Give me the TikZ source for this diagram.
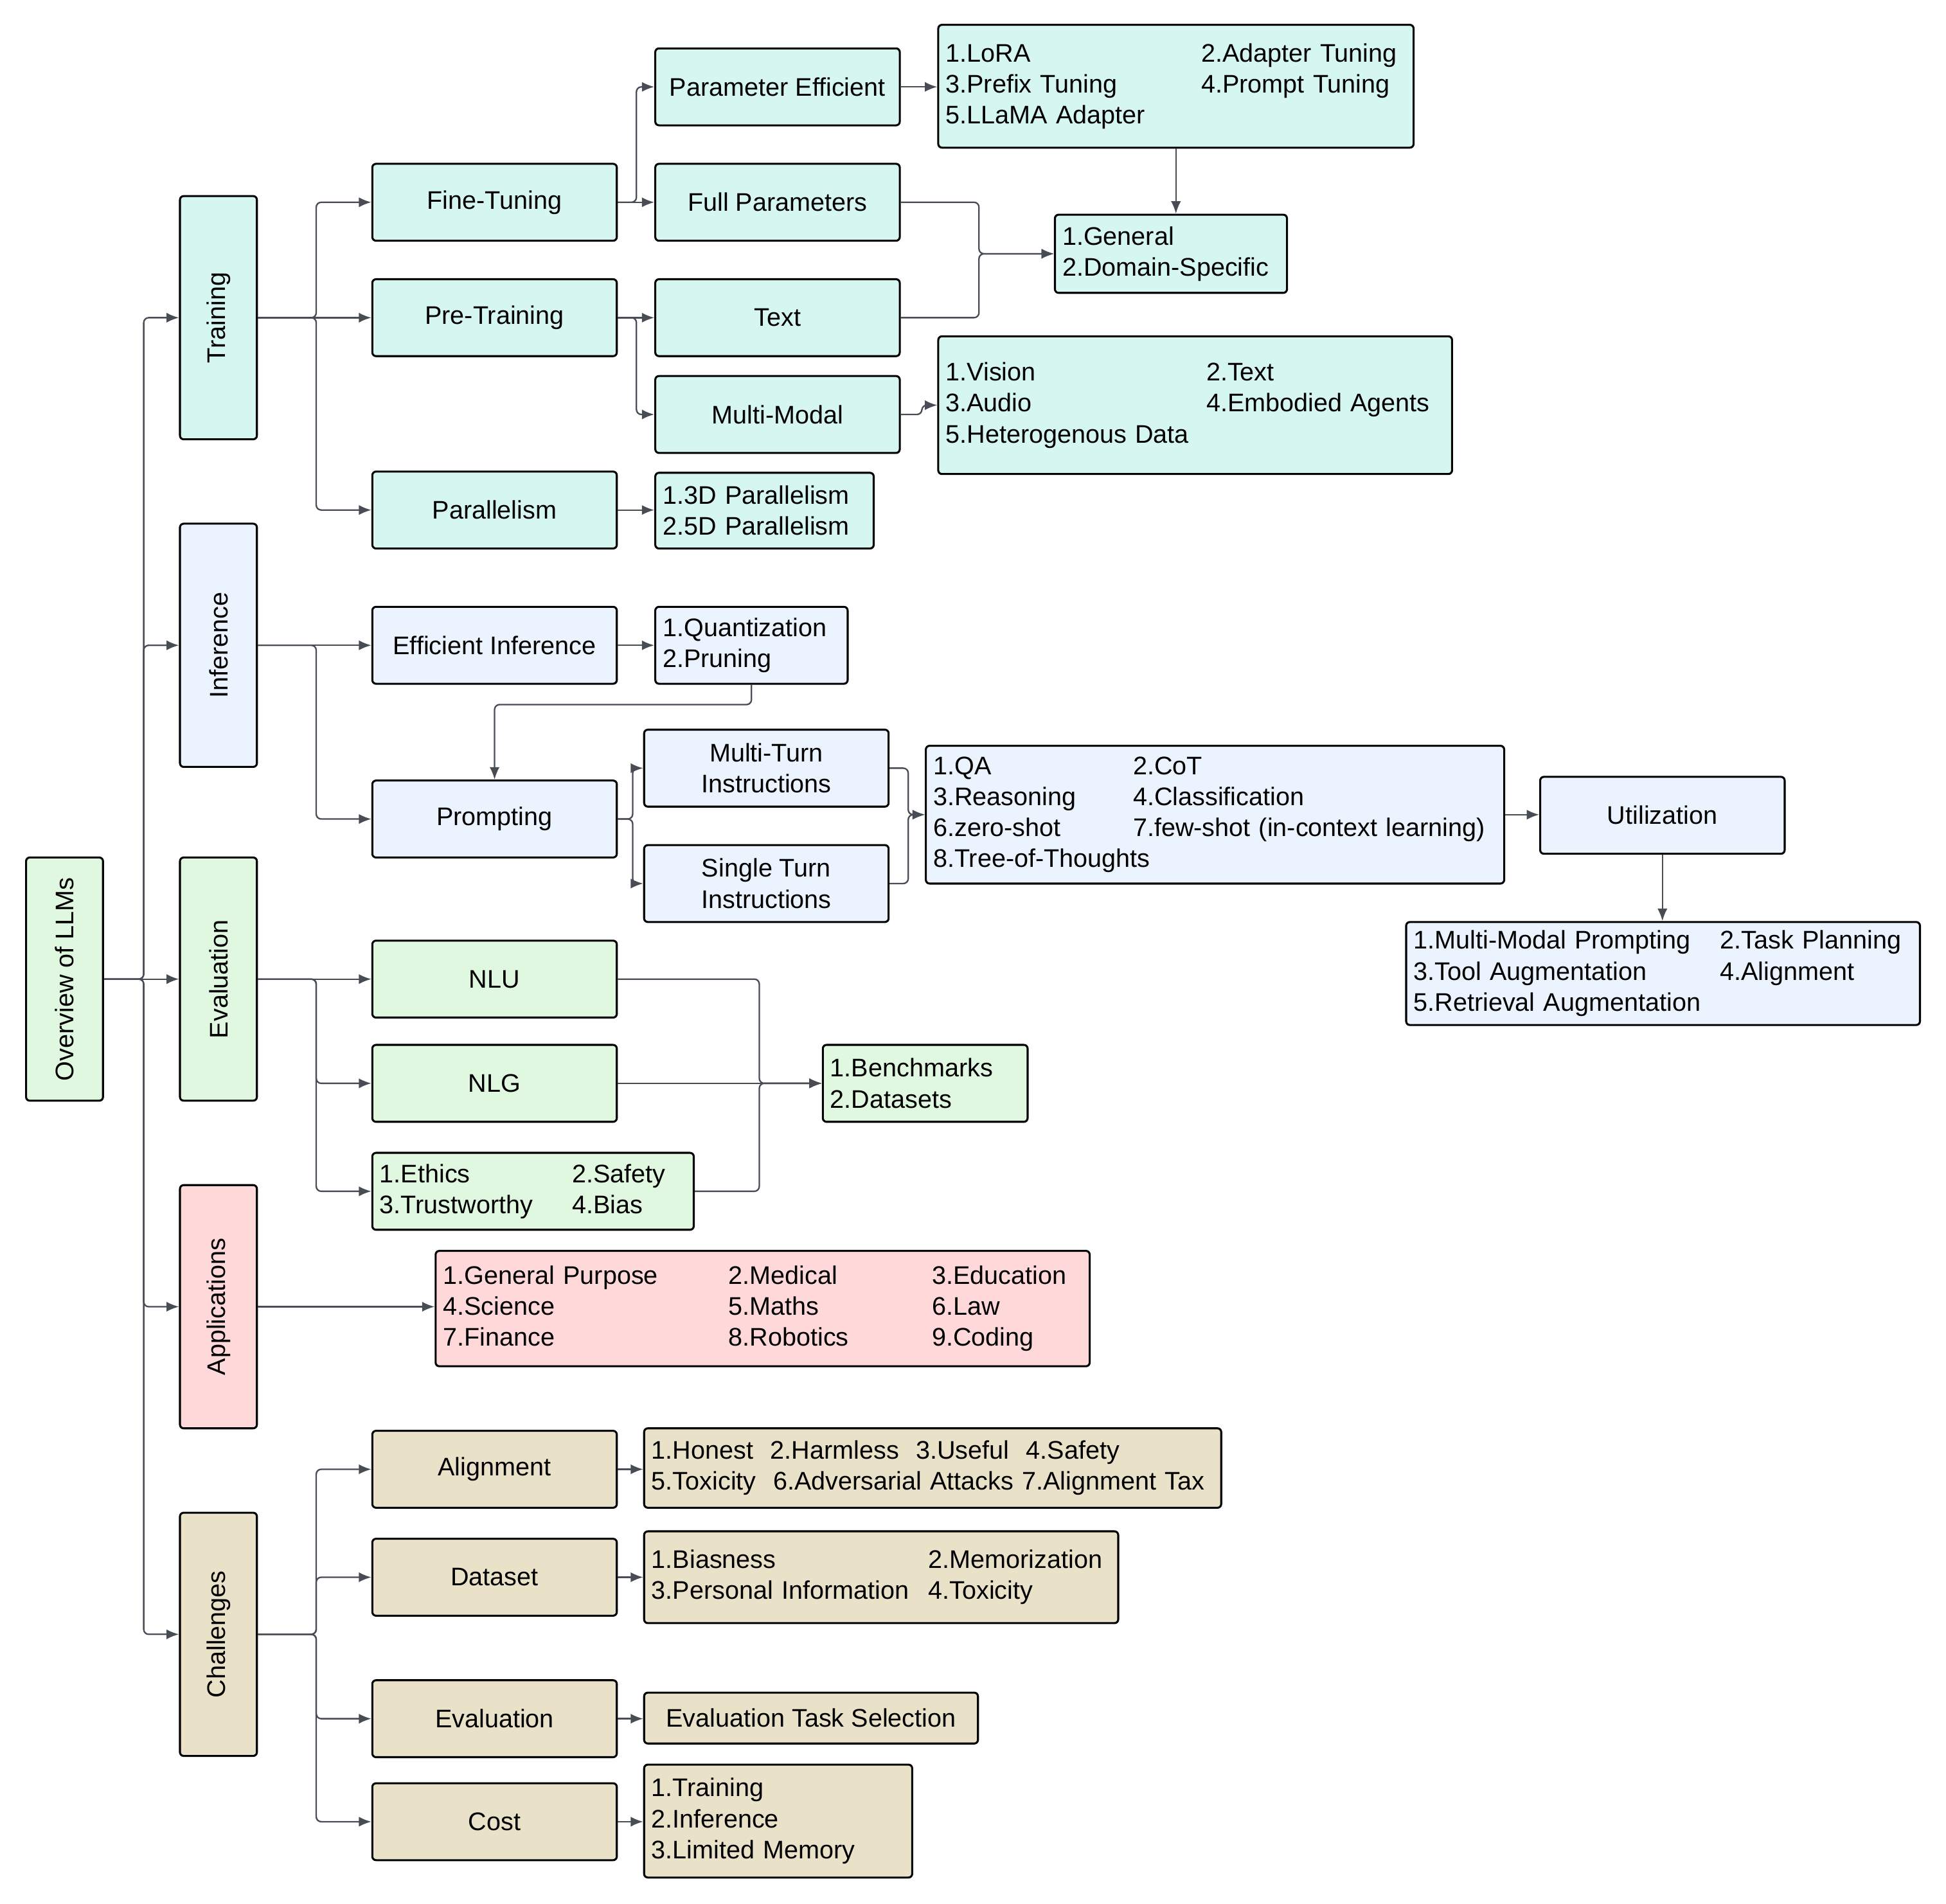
\documentclass[tikz,border=0pt]{standalone}
\usepackage{fontspec}
\setmainfont{Liberation Sans}
\usetikzlibrary{arrows.meta}
\definecolor{trfill}{HTML}{D6F7F1}
\definecolor{inffill}{HTML}{EBF3FE}
\definecolor{evfill}{HTML}{E1F8E0}
\definecolor{appfill}{HTML}{FFD8D9}
\definecolor{chfill}{HTML}{E9E1C8}
\definecolor{wirecol}{HTML}{474C55}
\newcommand{\cel}[2]{\makebox[#1pt][l]{#2}}
\begin{document}
\begin{tikzpicture}[x=1pt,y=-1pt,
  box/.style={draw=black,line width=1.6pt,rounded corners=3pt,inner sep=0pt,
    font=\fontsize{20.5}{25}\selectfont,align=center,minimum width=197pt,minimum height=62pt},
  side/.style={box,minimum width=62pt,minimum height=196pt},
  list/.style={box,align=left,inner xsep=6pt,minimum width=0pt},
  wire/.style={draw=wirecol,line width=1.2pt,rounded corners=4pt},
  arr/.style={wire,-{Latex[length=10pt,width=8pt]}}]
\useasboundingbox (0,0) rectangle (1568,1534);

\node[side,fill=evfill] (root) at (52,789) {\rotatebox{90}{Overview of LLMs}};
\foreach \n/\y/\c/\t in {tr/256/trfill/Training,inf/520/inffill/Inference,ev/789/evfill/Evaluation,app/1053/appfill/Applications,ch/1317/chfill/Challenges}
  \node[side,fill=\c] (\n) at (176,\y) {\rotatebox{90}{\t}};
\path (root.east) ++(32,0) coordinate (trunk);
\foreach \n in {tr,inf,app,ch}
  \draw[arr] (root.east) -- (trunk) |- (\n.west);
\draw[arr] (root.east) -- (ev.west);

\foreach \n/\y/\t in {ft/163/Fine-Tuning,pt/256/Pre-Training,par/411/Parallelism}
  \node[box,fill=trfill] (\n) at (398.5,\y) {\t};
\foreach \n in {ft,par}
  \draw[arr] (tr.east) -- ++(47,0) |- (\n.west);
\draw[arr] (tr.east) -- (pt.west);
\foreach \n/\y/\t in {pe/70/Parameter Efficient,fp/163/Full Parameters,txt/256/Text,mm/334/Multi-Modal}
  \node[box,fill=trfill] (\n) at (626.5,\y) {\t};
\draw[arr] (ft.east) -- ++(15,0) |- (pe.west);
\draw[arr] (ft.east) -- (fp.west);
\draw[arr] (pt.east) -- (txt.west);
\draw[arr] (pt.east) -- ++(15,0) |- (mm.west);
\node[list,fill=trfill,text width=371pt,minimum height=99pt] (pelist) at (947.5,69.5)
  {\cel{206}{1.LoRA}2.Adapter Tuning\\ \cel{206}{3.Prefix Tuning}4.Prompt Tuning\\ 5.LLaMA Adapter};
\node[list,fill=trfill,text width=175pt,minimum height=63pt] (gen) at (943.5,204.5)
  {1.General\\ 2.Domain-Specific};
\node[list,fill=trfill,text width=402pt,minimum height=111pt] (mmlist) at (963,326.5)
  {\cel{210}{1.Vision}2.Text\\ \cel{210}{3.Audio}4.Embodied Agents\\ 5.Heterogenous Data};
\node[list,fill=trfill,text width=164pt,minimum height=61pt] (parlist) at (616,411.5)
  {1.3D Parallelism\\ 2.5D Parallelism};
\draw[arr] (pe.east) -- (pe.east -| pelist.west);
\draw[arr] (pelist.south) -- (pelist.south |- gen.north);
\foreach \n in {fp,txt}
  \draw[arr] (\n.east) -- ++(63,0) |- (gen.west);
\draw[arr] (mm.east) -- ++(17,0) |- (mmlist.west);
\draw[arr] (par.east) -- (par.east -| parlist.west);

\foreach \n/\y/\t in {ei/520/Efficient Inference,pr/660/Prompting}
  \node[box,fill=inffill] (\n) at (398.5,\y) {\t};
\draw[arr] (inf.east) -- (ei.west);
\draw[arr] (inf.east) -- ++(47,0) |- (pr.west);
\node[list,fill=inffill,text width=143pt,minimum height=62pt] (eilist) at (605.5,520)
  {1.Quantization\\ 2.Pruning};
\draw[arr] (ei.east) -- (ei.east -| eilist.west);
\draw[arr] (eilist.south) -- ++(0,16) -| (pr.north);
\node[box,fill=inffill] (mt) at (617.5,619) {Multi-Turn\\ Instructions};
\node[box,fill=inffill] (st) at (617.5,712) {Single Turn\\ Instructions};
\foreach \n in {mt,st}
  \draw[arr] (pr.east) -- ++(12,0) |- (\n.west);
\node[list,fill=inffill,text width=454pt,minimum height=111pt] (plist) at (979,656.5)
  {\cel{161}{1.QA}2.CoT\\ \cel{161}{3.Reasoning}4.Classification\\ \cel{161}{6.zero-shot}7.few-shot (in-context learning)\\ 8.Tree-of-Thoughts};
\foreach \n in {mt,st}
  \draw[arr] (\n.east) -- ++(15,0) |- (plist.west);
\node[box,fill=inffill] (ut) at (1339.5,657) {Utilization};
\draw[arr] (plist.east) -- (plist.east -| ut.west);
\node[list,fill=inffill,text width=402pt,minimum height=83pt] (ulist) at (1340,784.5)
  {\cel{247}{1.Multi-Modal Prompting}2.Task Planning\\ \cel{247}{3.Tool Augmentation}4.Alignment\\ 5.Retrieval Augmentation};
\draw[arr] (ut.south) -- (ut.south |- ulist.north);

\foreach \n/\y/\t in {nlu/789/NLU,nlg/873/NLG}
  \node[box,fill=evfill] (\n) at (398.5,\y) {\t};
\node[list,fill=evfill,text width=247pt,minimum height=62pt] (eth) at (429.5,960)
  {\cel{155}{1.Ethics}2.Safety\\ \cel{155}{3.Trustworthy}4.Bias};
\draw[arr] (ev.east) -- (nlu.west);
\foreach \n in {nlg,eth}
  \draw[arr] (ev.east) -- ++(47,0) |- (\n.west);
\node[list,fill=evfill,text width=153pt,minimum height=62pt] (bench) at (745.5,873)
  {1.Benchmarks\\ 2.Datasets};
\path (nlu.east) ++(114,0) coordinate (evj);
\draw[arr] (nlu.east) -- (evj) |- (bench.west);
\draw[arr] (eth.east) -- (eth.east -| evj) |- (bench.west);
\draw[arr] (nlg.east) -- (bench.west);

\node[list,fill=appfill,text width=515pt,minimum height=93pt] (applist) at (614.5,1054.5)
  {\cel{230}{1.General Purpose}\cel{164}{2.Medical}3.Education\\ \cel{230}{4.Science}\cel{164}{5.Maths}6.Law\\ \cel{230}{7.Finance}\cel{164}{8.Robotics}9.Coding};
\draw[arr] (app.east) -- (app.east -| applist.west);

\foreach \n/\y/\t in {al/1184/Alignment,ds/1271/Dataset,cev/1385/Evaluation,cost/1468/Cost}
  \node[box,fill=chfill] (\n) at (398.5,\y) {\t};
\foreach \n in {al,ds,cev,cost}
  \draw[arr] (ch.east) -- ++(47,0) |- (\n.west);
\node[list,fill=chfill,text width=453pt,minimum height=64pt] (allist) at (751.5,1183)
  {1.Honest\ \ 2.Harmless\ \ 3.Useful\ \ 4.Safety\\ 5.Toxicity\ \ 6.Adversarial Attacks 7.Alignment Tax};
\node[list,fill=chfill,text width=370pt,minimum height=74pt] (dslist) at (710,1271)
  {\cel{223}{1.Biasness}2.Memorization\\ \cel{223}{3.Personal Information}4.Toxicity};
\node[box,fill=chfill,minimum width=269pt,minimum height=41pt] (cevlist) at (653.5,1384.5)
  {Evaluation Task Selection};
\node[list,fill=chfill,text width=204pt,minimum height=91pt] (costlist) at (627,1467.5)
  {1.Training\\ 2.Inference\\ 3.Limited Memory};
\foreach \a/\b in {al/allist,ds/dslist,cev/cevlist,cost/costlist}
  \draw[arr] (\a.east) -- (\a.east -| \b.west);
\end{tikzpicture}
\end{document}
